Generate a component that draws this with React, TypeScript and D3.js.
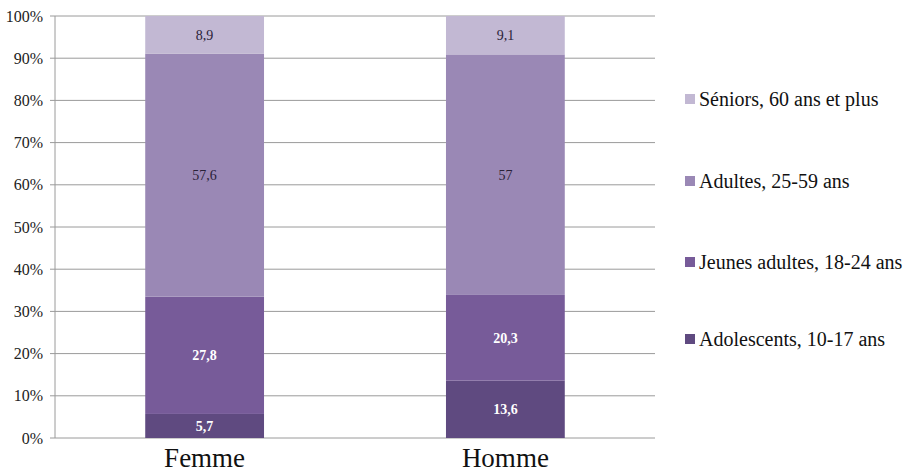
import React from "react";
import * as d3 from "d3";

const categories = ["Femme", "Homme"];
const seriesNames = [
  "Adolescents, 10-17 ans",
  "Jeunes adultes, 18-24 ans",
  "Adultes, 25-59 ans",
  "Séniors, 60 ans et plus",
];
const adolescents = [5.7, 13.6];
const jeunesAdultes = [27.8, 20.3];
const adultes = [57.6, 57];
const seniors = [8.9, 9.1];
const yTicks = [0, 10, 20, 30, 40, 50, 60, 70, 80, 90, 100];
const colors = ["#5f4a80", "#775b99", "#9a88b5", "#c2b8d3"];
const labelColors = ["#ffffff", "#ffffff", "#2a2238", "#2a2238"];
const labelWeights = ["bold", "bold", "normal", "normal"];

export default function App() {
  const W = 909, H = 473;
  const left = 55, right = 655, top = 16, bottom = 438;
  const font = "Liberation Serif, Times New Roman, serif";
  const x = d3.scaleBand<string>().domain(categories).range([left, right]).paddingInner(0.605).paddingOuter(0.3);
  const y = d3.scaleLinear().domain([0, 100]).range([bottom, top]);
  const seriesVals = [adolescents, jeunesAdultes, adultes, seniors];
  const rows = categories.map((c, i) => {
    const r: any = { cat: c };
    seriesVals.forEach((s, k) => (r["s" + k] = s[i]));
    return r;
  });
  const stack = d3.stack<any>().keys(["s0", "s1", "s2", "s3"])(rows);
  const fmt = (v: number) => String(v).replace(".", ",");
  const legendY = [339, 262, 181, 99];

  return (
    <svg width={W} height={H} style={{ position: "absolute", left: 0, top: 0, background: "#fff", fontFamily: font }}>
      {yTicks.map((t) => (
        <g key={t}>
          <line x1={left - 5} x2={right} y1={y(t)} y2={y(t)} stroke="#9a9a9a" strokeWidth={1} />
          <text x={43} y={y(t)} dy="0.35em" textAnchor="end" style={{ fontFamily: font }} fontSize={16} fill="#222">
            {t}%
          </text>
        </g>
      ))}
      <line x1={left} x2={left} y1={top} y2={bottom} stroke="#9a9a9a" strokeWidth={1} />
      {stack.map((layer, k) =>
        layer.map((d, i) => (
          <g key={k + "-" + i}>
            <rect
              x={x(categories[i])}
              width={x.bandwidth()}
              y={y(d[1])}
              height={y(d[0]) - y(d[1])}
              fill={colors[k]}
            />
            <text
              x={(x(categories[i]) as number) + x.bandwidth() / 2}
              y={(y(d[0]) + y(d[1])) / 2}
              dy="0.35em"
              textAnchor="middle"
              style={{ fontFamily: font }}
              fontSize={14}
              fontWeight={labelWeights[k]}
              fill={labelColors[k]}
            >
              {fmt(seriesVals[k][i])}
            </text>
          </g>
        ))
      )}
      {categories.map((c) => (
        <text key={c} x={(x(c) as number) + x.bandwidth() / 2} y={467} textAnchor="middle" style={{ fontFamily: font }} fontSize={27} fill="#111">
          {c}
        </text>
      ))}
      {seriesNames.map((n, k) => (
        <g key={n}>
          <rect x={685} y={legendY[k] - 5} width={10} height={10} fill={colors[k]} />
          <text x={699} y={legendY[k]} dy="0.35em" style={{ fontFamily: font }} fontSize={20} fill="#111">
            {n}
          </text>
        </g>
      ))}
    </svg>
  );
}
